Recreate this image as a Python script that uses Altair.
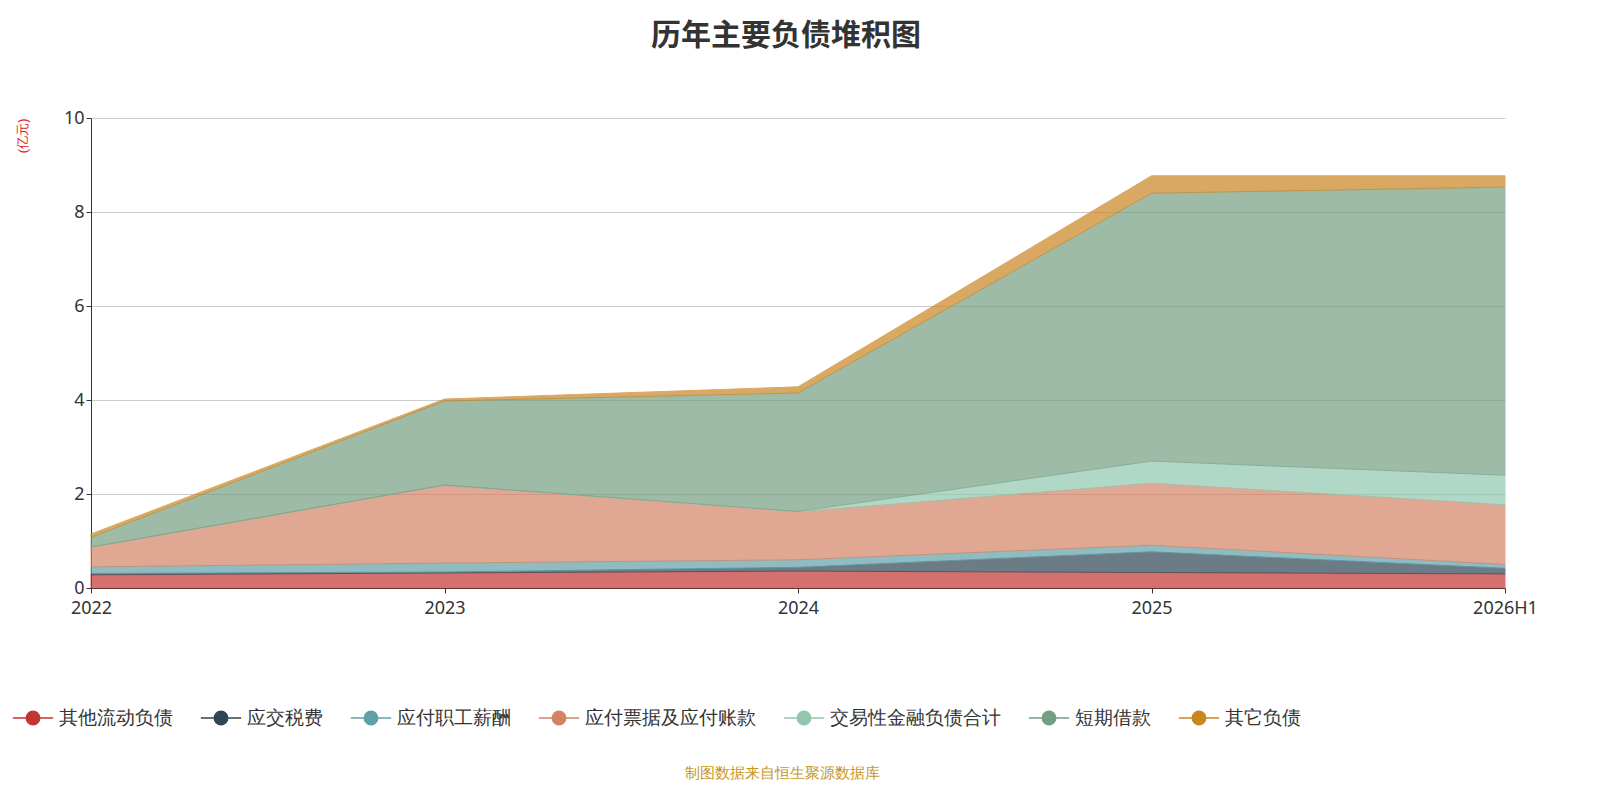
import altair as alt
import pandas as pd

years = ["2022", "2023", "2024", "2025", "2026H1"]
series = ["其他流动负债", "应交税费", "应付职工薪酬", "应付票据及应付账款", "交易性金融负债合计", "短期借款", "其它负债"]
colors = ["#c23531", "#2f4554", "#61a0a8", "#d48265", "#91c7ae", "#749f83", "#ca8622"]
values = {
    "其他流动负债": [0.28, 0.32, 0.36, 0.33, 0.30],
    "应交税费": [0.03, 0.02, 0.08, 0.44, 0.12],
    "应付职工薪酬": [0.14, 0.19, 0.16, 0.14, 0.08],
    "应付票据及应付账款": [0.42, 1.66, 1.02, 1.32, 1.27],
    "交易性金融负债合计": [0.0, 0.0, 0.01, 0.47, 0.63],
    "短期借款": [0.21, 1.79, 2.52, 5.70, 6.13],
    "其它负债": [0.07, 0.04, 0.13, 0.37, 0.24],
}

rows = []
for i, s in enumerate(series):
    for y, v in zip(years, values[s]):
        rows.append({"year": y, "series": s, "value": v, "idx": i})
df = pd.DataFrame(rows)

W, H = 1414, 470
scale = alt.Scale(domain=series, range=colors)

area = alt.Chart(df).mark_area(opacity=0.7, strokeWidth=1).encode(
    x=alt.X("year:O", scale=alt.Scale(type="point", padding=0, domain=years),
            axis=alt.Axis(title=None, labelAngle=0, labelFontSize=18, labelColor="#333",
                          domainColor="#333", tickColor="#333", labelPadding=6,
                          labelFont="Noto Sans")),
    y=alt.Y("value:Q", stack="zero", scale=alt.Scale(domain=[0, 10]),
            axis=alt.Axis(title="(亿元)", titleColor="#e02020", titleFontSize=13,
                          titleFontWeight="normal", titleAngle=270, titleY=0, titleX=-62,
                          titleAlign="right", tickCount=5, labelFontSize=18, labelColor="#333",
                          domainColor="#333", tickColor="#333", gridColor="#ccc",
                          labelFont="Noto Sans")),
    color=alt.Color("series:N", scale=scale, legend=alt.Legend(
        title=None, orient="none", legendX=-70, legendY=588, direction="horizontal",
        columns=7, labelFontSize=19, labelColor="#333", symbolSize=500, labelLimit=0,
        labelOffset=14,
        symbolType="M-1.8,0H-0.6M0.6,0H1.8M-0.6,0A0.6,0.6 0 1,1 0.6,0A0.6,0.6 0 1,1 -0.6,0Z",
        symbolStrokeWidth=1.5, symbolOpacity=1, columnPadding=24, labelFont="Noto Sans")),
    stroke=alt.Stroke("series:N", scale=scale, legend=None),
    order=alt.Order("idx:Q"),
)

src = alt.Chart(pd.DataFrame({"t": ["制图数据来自恒生聚源数据库"]})).mark_text(
    fontSize=15, color="#c8961e", font="Noto Sans").encode(
    text="t:N", x=alt.value(W / 2 - 16), y=alt.value(H + 185))

chart = alt.layer(area, src).properties(
    width=W, height=H, autosize="none",
    padding={"left": 83, "top": 110, "right": 60, "bottom": 200},
    title=alt.TitleParams("历年主要负债堆积图", fontSize=30, font="Noto Sans CJK SC",
                          color="#333", anchor="middle", offset=58, dx=-12),
).configure_view(stroke=None).configure_axisX(grid=False)

chart.save("out.html", embed_options={"renderer": "svg", "actions": False})
